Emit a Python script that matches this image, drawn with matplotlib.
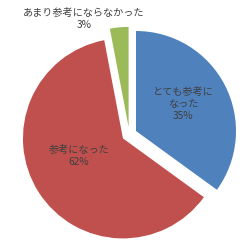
import matplotlib
matplotlib.use("Agg")
from matplotlib import pyplot as plt

plt.rcParams['font.family'] = ['Noto Sans CJK JP', 'DejaVu Sans']

# data (clockwise from 12 o'clock)
labels = ['とても参考に\nなった', '参考になった', 'あまり参考にならなかった']
shares = [35, 62, 3]
colors = ['#4F81BD', '#C0504D', '#9BBB59']

# label positions in pixels of the reference (x, y from top)
label_px = [(183, 104), (79, 156), (84, 19)]

W, H = 253, 243
cx, cy, R = 129.3, 134.4, 100.0

fig = plt.figure(figsize=(W / 100, H / 100), dpi=100)
ax = fig.add_axes([0, 0, 1, 1])
ax.pie(shares, colors=colors, startangle=90, counterclock=False,
       explode=[0.075] * 3, radius=1.0, wedgeprops=dict(linewidth=0))
ax.set_xlim(-cx / R, (W - cx) / R)
ax.set_ylim(-(H - cy) / R, cy / R)
ax.set_aspect('equal')
ax.axis('off')

for lab, v, (px, py) in zip(labels, shares, label_px):
    ax.text((px - cx) / R, (cy - py) / R, f'{lab}\n{v}%', ha='center', va='center',
            fontsize=7.3, color='#404040', linespacing=1.3)

fig.savefig('out.png', dpi=100)
